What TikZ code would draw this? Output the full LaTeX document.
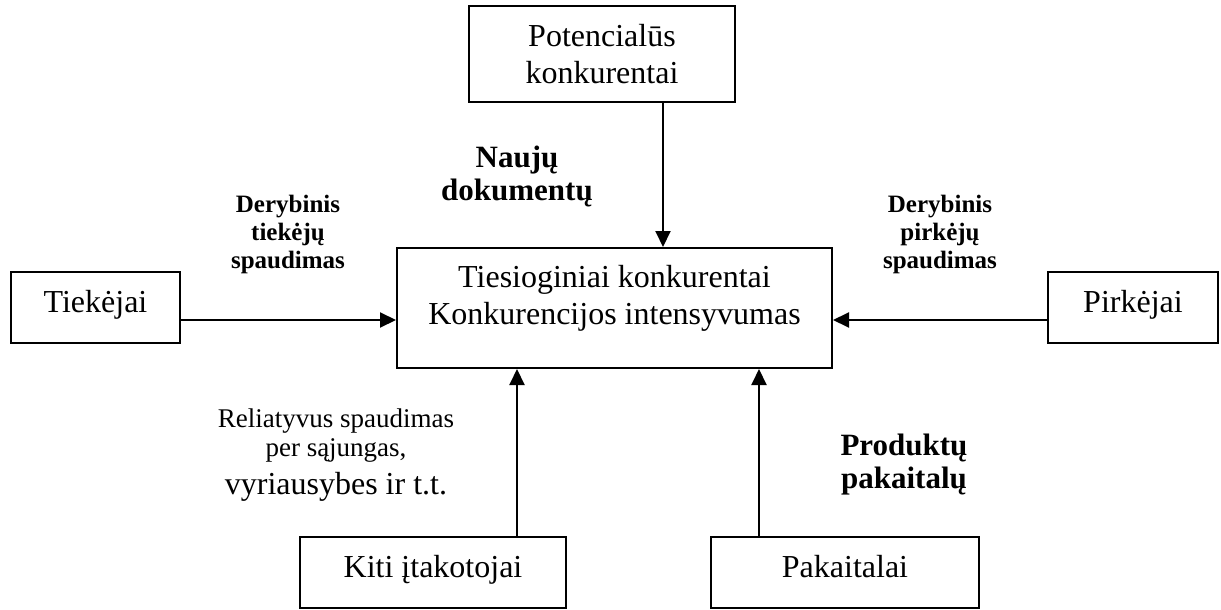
\documentclass[tikz,border=0pt]{standalone}
\usepackage{fontspec}
\setmainfont{Liberation Serif}
\usetikzlibrary{arrows.meta}
\begin{document}
\begin{tikzpicture}[x=1pt,y=-1pt,
  box/.style={draw, line width=2pt, inner sep=0pt, align=center,
              font=\fontsize{32}{37}\selectfont},
  oneline/.style={text height=22pt, text depth=13pt},
  plain/.style={inner sep=0pt, align=center, font=\fontsize{32}{37}\selectfont},
  flow/.style={line width=2pt, -{Triangle[length=16pt,width=15pt]}},
  force/.style={inner sep=0pt, align=center, font=\bfseries\fontsize{31}{33}\selectfont},
  bargain/.style={inner sep=0pt, align=center, font=\bfseries\fontsize{25}{28}\selectfont}]
\useasboundingbox (0,0) rectangle (1221,610);

% the five forces
\node[box, minimum width=266pt, minimum height=96pt] (pot) at (602,54)
  {Potencialūs\\konkurentai};
\node[box, minimum width=435pt, minimum height=120pt] (core) at (614.5,308) {};
\node[plain] (coretxt) at (614.5,298)
  {Tiesioginiai konkurentai\\Konkurencijos intensyvumas};
\node[box, oneline, minimum width=169pt, minimum height=71pt] (sup) at (95.5,307.5) {Tiekėjai};
\node[box, oneline, minimum width=170pt, minimum height=71pt] (buy) at (1133,307.5) {Pirkėjai};
\node[box, oneline, minimum width=266pt, minimum height=71pt] (oth) at (433,572.5) {Kiti įtakotojai};
\node[box, oneline, minimum width=268pt, minimum height=71pt] (sub) at (845,572.5) {Pakaitalai};

% arrow positions
\coordinate (xtop) at (663,0);
\coordinate (yside) at (0,320);
\coordinate (xoth) at (517,0);
\coordinate (xsub) at (759,0);

\draw[flow] (pot.south -| xtop) -- (core.north -| xtop);
\draw[flow] (sup.east |- yside) -- (core.west |- yside);
\draw[flow] (buy.west |- yside) -- (core.east |- yside);
\draw[flow] (oth.north -| xoth) -- (core.south -| xoth);
\draw[flow] (sub.north -| xsub) -- (core.south -| xsub);

% labels of the forces
\node[force] (newdoc) at (517,176) {Naujų\\dokumentų};
\node[bargain] (supp) at (288,234) {Derybinis\\tiekėjų\\spaudimas};
\node[bargain] (buyp) at (940,234) {Derybinis\\pirkėjų\\spaudimas};
\node[force] (subp) at (904,464.5) {Produktų\\pakaitalų};
\node[inner sep=0pt, align=center, font=\fontsize{27}{29}\selectfont] (othp) at (336,455)
  {Reliatyvus spaudimas\\per sąjungas,\\[9pt]\fontsize{32}{37}\selectfont vyriausybes ir t.t.};
\end{tikzpicture}
\end{document}
